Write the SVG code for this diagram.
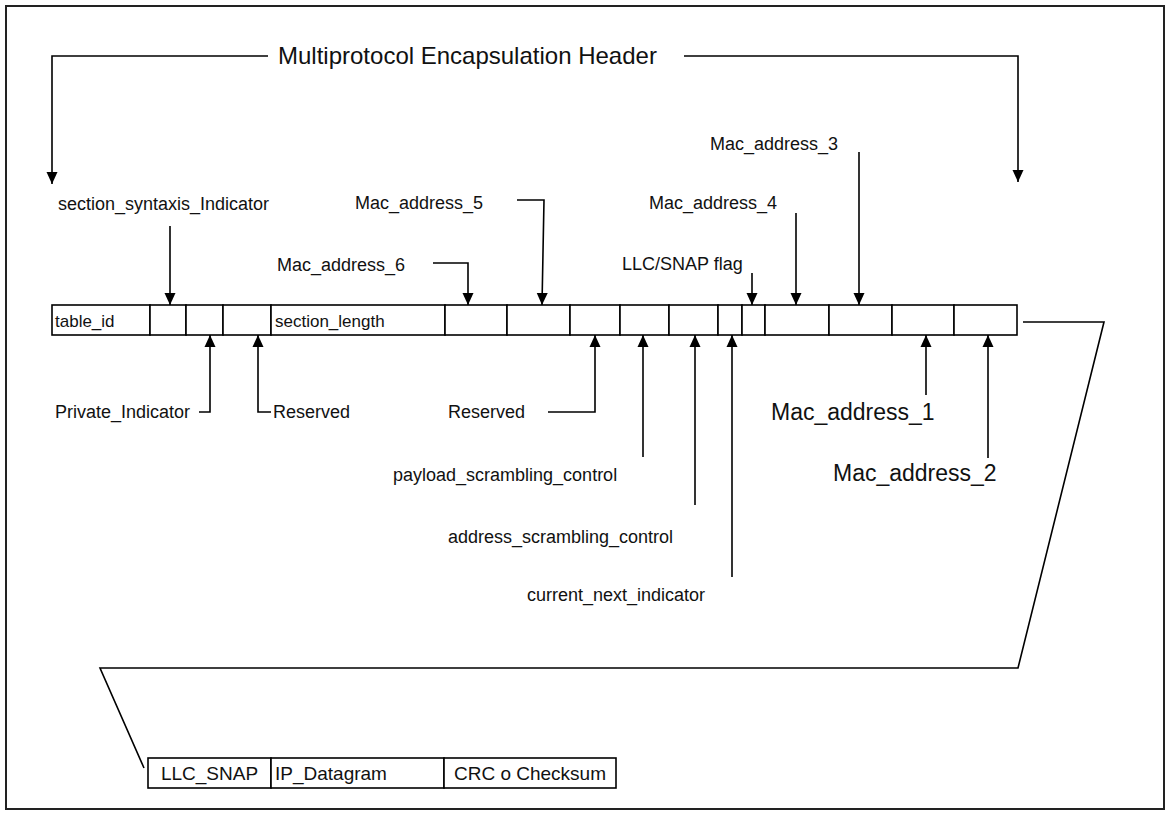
<svg xmlns="http://www.w3.org/2000/svg" width="1171" height="818" viewBox="0 0 1171 818">
  <defs>
    <marker id="arrow" markerUnits="userSpaceOnUse" markerWidth="12" markerHeight="12" viewBox="0 0 12 12" refX="12" refY="6" orient="auto">
      <path d="M0,0.5 L12,6 L0,11.5 Z" fill="#000"/>
    </marker>
    <style>
      .frame { fill: none; stroke: #222; stroke-width: 2; }
      .cell { fill: #fff; stroke: #000; stroke-width: 1.6; }
      .line { fill: none; stroke: #000; stroke-width: 1.6; }
      .arr { fill: none; stroke: #000; stroke-width: 1.6; marker-end: url(#arrow); }
      text { font-family: "Liberation Sans", Arial, sans-serif; fill: #111; }
      .lbl { font-size: 18px; }
      .big { font-size: 23px; }
      .title { font-size: 24px; }
      .in { font-size: 17px; }
      .box { font-size: 19px; }
    </style>
  </defs>

  <rect class="frame" x="6" y="6" width="1158" height="803"/>

  <!-- header title -->
  <g id="title">
    <text class="title" x="278" y="64">Multiprotocol Encapsulation Header</text>
  </g>

  <!-- section fields -->
  <g id="field-table_id"><rect class="cell" x="52" y="305" width="98" height="30"/><text class="in" x="55" y="327">table_id</text></g>
  <g id="field-section_syntax_indicator"><rect class="cell" x="150" y="305" width="36" height="30"/></g>
  <g id="field-private_indicator"><rect class="cell" x="186" y="305" width="37" height="30"/></g>
  <g id="field-reserved-1"><rect class="cell" x="223" y="305" width="48" height="30"/></g>
  <g id="field-section_length"><rect class="cell" x="271" y="305" width="174" height="30"/><text class="in" x="275" y="327">section_length</text></g>
  <g id="field-mac6"><rect class="cell" x="445" y="305" width="62" height="30"/></g>
  <g id="field-mac5"><rect class="cell" x="507" y="305" width="63" height="30"/></g>
  <g id="field-reserved-2"><rect class="cell" x="570" y="305" width="50" height="30"/></g>
  <g id="field-payload_scrambling"><rect class="cell" x="620" y="305" width="49" height="30"/></g>
  <g id="field-address_scrambling"><rect class="cell" x="669" y="305" width="49" height="30"/></g>
  <g id="field-current_next"><rect class="cell" x="718" y="305" width="24" height="30"/></g>
  <g id="field-llc_snap_flag"><rect class="cell" x="742" y="305" width="23" height="30"/></g>
  <g id="field-mac4"><rect class="cell" x="765" y="305" width="64" height="30"/></g>
  <g id="field-mac3"><rect class="cell" x="829" y="305" width="63" height="30"/></g>
  <g id="field-mac1"><rect class="cell" x="892" y="305" width="62" height="30"/></g>
  <g id="field-mac2"><rect class="cell" x="954" y="305" width="63" height="30"/></g>

  <!-- payload section -->
  <g id="box-llc_snap"><rect class="cell" x="148" y="758" width="123" height="30"/><text class="box" x="209.5" y="780" text-anchor="middle">LLC_SNAP</text></g>
  <g id="box-ip_datagram"><rect class="cell" x="271" y="758" width="173" height="30"/><text class="box" x="275" y="780">IP_Datagram</text></g>
  <g id="box-crc"><rect class="cell" x="444" y="758" width="172" height="30"/><text class="box" x="530" y="780" text-anchor="middle">CRC o Checksum</text></g>

  <!-- field labels -->
  <g id="labels">
    <text class="lbl" x="58" y="210">section_syntaxis_Indicator</text>
    <text class="lbl" x="355" y="209">Mac_address_5</text>
    <text class="lbl" x="649" y="209">Mac_address_4</text>
    <text class="lbl" x="710" y="150">Mac_address_3</text>
    <text class="lbl" x="277" y="271">Mac_address_6</text>
    <text class="lbl" x="622" y="270">LLC/SNAP flag</text>
    <text class="lbl" x="55" y="418">Private_Indicator</text>
    <text class="lbl" x="273" y="418">Reserved</text>
    <text class="lbl" x="448" y="418">Reserved</text>
    <text class="lbl" x="393" y="481">payload_scrambling_control</text>
    <text class="lbl" x="448" y="543">address_scrambling_control</text>
    <text class="lbl" x="527" y="601">current_next_indicator</text>
    <text class="big" x="771" y="420">Mac_address_1</text>
    <text class="big" x="833" y="481">Mac_address_2</text>
  </g>

  <!-- connectors -->
  <g id="connectors">
    <polyline class="arr" points="268,56 52,56 52,184"/>
    <polyline class="arr" points="684,56 1018,56 1018,182"/>

    <polyline class="arr" points="170,226 170,305"/>
    <polyline class="arr" points="433,263 468,263 468,305"/>
    <polyline class="arr" points="517,200 544,200 542,305"/>
    <polyline class="arr" points="752,273 752,305"/>
    <polyline class="arr" points="796,213 796,305"/>
    <polyline class="arr" points="859,152 859,305"/>

    <polyline class="arr" points="199,412 210,412 210,335"/>
    <polyline class="arr" points="271,412 258,412 258,335"/>
    <polyline class="arr" points="548,412 595,412 595,335"/>
    <polyline class="arr" points="643,457 643,335"/>
    <polyline class="arr" points="695,505 695,335"/>
    <polyline class="arr" points="732,577 732,335"/>
    <polyline class="arr" points="926,395 926,335"/>
    <polyline class="arr" points="988,458 988,335"/>

    <polyline class="line" points="1023,322 1104,322 1018,668 100,668 144,768"/>
  </g>
</svg>
